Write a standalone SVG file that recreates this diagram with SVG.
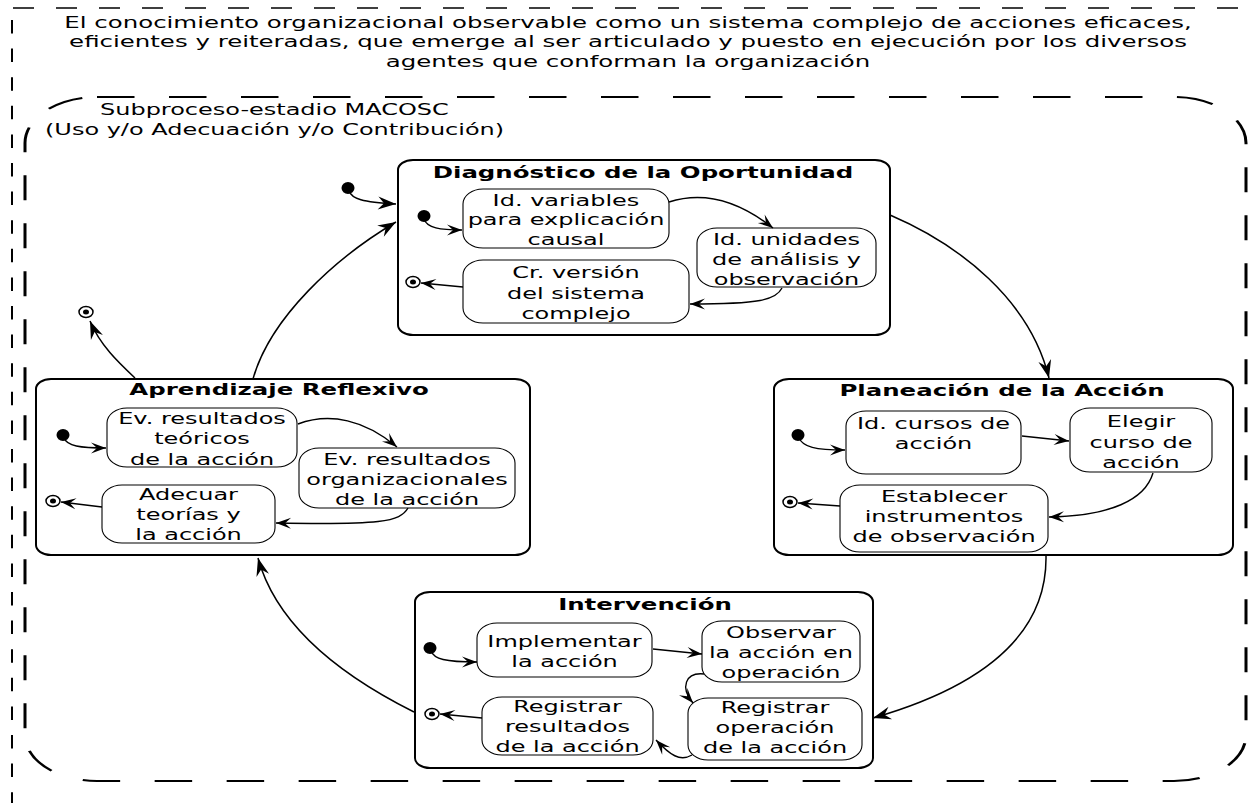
<svg xmlns="http://www.w3.org/2000/svg" width="1257" height="803" viewBox="0 0 1257 803">
<defs>
<style>
text{font-family:"DejaVu Sans","Liberation Sans",sans-serif;font-size:16px;fill:#000}
.c{text-anchor:middle}
.t{font-weight:bold;font-size:16.3px}
.h{font-size:16.3px}
.box{fill:#fff;stroke:#000;stroke-width:2}
.sub{fill:#fff;stroke:#000;stroke-width:1.1}
.conn{fill:none;stroke:#000;stroke-width:1.4;marker-end:url(#ah)}
.big{fill:none;stroke:#000;stroke-width:1.5;marker-end:url(#ahb)}
.init{fill:#000}
.fin{fill:#fff;stroke:#000;stroke-width:1.5}
.dash{fill:none;stroke:#000}
</style>
<marker id="ah" markerUnits="userSpaceOnUse" markerWidth="20" markerHeight="14" refX="16" refY="7" orient="auto" viewBox="0 0 20 14"><path d="M16,7 L1,1.5 L7,7 L1,12.5 Z" fill="#000"/></marker>
<marker id="ahb" markerUnits="userSpaceOnUse" markerWidth="22" markerHeight="16" refX="20" refY="8" orient="auto" viewBox="0 0 22 16"><path d="M20,8 L2,1.5 L8,8 L2,14.5 Z" fill="#000"/></marker>
</defs>
<rect width="1257" height="803" fill="#fff"/>

<g id="outer-frame">
<line class="dash" x1="13" y1="8" x2="1257" y2="8" stroke-width="1.3" stroke-dasharray="21 22"/>
<line class="dash" x1="12" y1="20" x2="12" y2="803" stroke-width="2" stroke-dasharray="13.5 15.1"/>
<text class="c h" transform="matrix(1.5 0 0 1 628 0)"><tspan x="0" y="28">El conocimiento organizacional observable como un sistema complejo de acciones eficaces,</tspan><tspan x="0" y="47.5">eficientes y reiteradas, que emerge al ser articulado y puesto en ejecución por los diversos</tspan><tspan x="0" y="67">agentes que conforman la organización</tspan></text>
</g>

<g id="subprocess-frame">
<g transform="matrix(1.5 0 0 1 0 0)"><rect class="dash" x="16.667" y="97" width="814" height="684" rx="48" ry="46" stroke-width="2" stroke-dasharray="25 23"/></g>
<text transform="matrix(1.5 0 0 1 100 0)" x="0" y="115">Subproceso-estadio MACOSC</text>
<text transform="matrix(1.5 0 0 1 45 0)" x="0" y="135">(Uso y/o Adecuación y/o Contribución)</text>
</g>

<g id="diagnostico">
<rect class="box" x="398" y="160" width="492" height="175" rx="15" ry="10"/>
<text class="c t" transform="matrix(1.5 0 0 1 643 0)" x="0" y="178">Diagnóstico de la Oportunidad</text>
<g id="d-idvar"><rect class="sub" x="463" y="189" width="206" height="59" rx="20" ry="15"/>
<text class="c" transform="matrix(1.5 0 0 1 566 0)"><tspan x="0" y="206">Id. variables</tspan><tspan x="0" y="225.5">para explicación</tspan><tspan x="0" y="245">causal</tspan></text></g>
<g id="d-idunid"><rect class="sub" x="697" y="228" width="179" height="59" rx="20" ry="15"/>
<text class="c" transform="matrix(1.5 0 0 1 786.5 0)"><tspan x="0" y="245">Id. unidades</tspan><tspan x="0" y="265">de análisis y</tspan><tspan x="0" y="285">observación</tspan></text></g>
<g id="d-crver"><rect class="sub" x="463" y="260" width="226" height="63" rx="20" ry="15"/>
<text class="c" transform="matrix(1.5 0 0 1 576 0)"><tspan x="0" y="278">Cr. versión</tspan><tspan x="0" y="299">del sistema</tspan><tspan x="0" y="319">complejo</tspan></text></g>
<ellipse class="init" cx="424" cy="216" rx="6.5" ry="6"/>
<g class="final"><ellipse class="fin" cx="413" cy="282" rx="7" ry="5.5"/><ellipse cx="413" cy="282" rx="3" ry="2.5"/></g>
</g>

<g id="planeacion">
<rect class="box" x="774" y="379" width="459" height="176" rx="15" ry="10"/>
<text class="c t" transform="matrix(1.5 0 0 1 1002 0)" x="0" y="396.5">Planeación de la Acción</text>
<g id="p-idcur"><rect class="sub" x="846" y="411" width="175" height="63" rx="20" ry="15"/>
<text class="c" transform="matrix(1.5 0 0 1 933.5 0)"><tspan x="0" y="429">Id. cursos de</tspan><tspan x="0" y="449">acción</tspan></text></g>
<g id="p-elegir"><rect class="sub" x="1070" y="408" width="142" height="64" rx="20" ry="15"/>
<text class="c" transform="matrix(1.5 0 0 1 1141 0)"><tspan x="0" y="427">Elegir</tspan><tspan x="0" y="448">curso de</tspan><tspan x="0" y="468">acción</tspan></text></g>
<g id="p-estab"><rect class="sub" x="840" y="485" width="208" height="67" rx="20" ry="15"/>
<text class="c" transform="matrix(1.5 0 0 1 944 0)"><tspan x="0" y="502">Establecer</tspan><tspan x="0" y="522">instrumentos</tspan><tspan x="0" y="542">de observación</tspan></text></g>
<ellipse class="init" cx="798" cy="435" rx="6.5" ry="6"/>
<g class="final"><ellipse class="fin" cx="790" cy="502" rx="7" ry="5.5"/><ellipse cx="790" cy="502" rx="3" ry="2.5"/></g>
</g>

<g id="aprendizaje">
<rect class="box" x="36" y="379" width="494" height="176" rx="15" ry="10"/>
<text class="c t" transform="matrix(1.5 0 0 1 279 0)" x="0" y="395.5">Aprendizaje Reflexivo</text>
<g id="a-evteo"><rect class="sub" x="107" y="408" width="190" height="59" rx="20" ry="15"/>
<text class="c" transform="matrix(1.5 0 0 1 202 0)"><tspan x="0" y="424">Ev. resultados</tspan><tspan x="0" y="444.5">teóricos</tspan><tspan x="0" y="465">de la acción</tspan></text></g>
<g id="a-evorg"><rect class="sub" x="299" y="448" width="216" height="60" rx="20" ry="15"/>
<text class="c" transform="matrix(1.5 0 0 1 407 0)"><tspan x="0" y="465">Ev. resultados</tspan><tspan x="0" y="485.5">organizacionales</tspan><tspan x="0" y="505">de la acción</tspan></text></g>
<g id="a-adec"><rect class="sub" x="102" y="485" width="173" height="58" rx="20" ry="15"/>
<text class="c" transform="matrix(1.5 0 0 1 188.5 0)"><tspan x="0" y="500">Adecuar</tspan><tspan x="0" y="520">teorías y</tspan><tspan x="0" y="540">la acción</tspan></text></g>
<ellipse class="init" cx="63" cy="435" rx="6.5" ry="6"/>
<g class="final"><ellipse class="fin" cx="53" cy="501" rx="7" ry="5.5"/><ellipse cx="53" cy="501" rx="3" ry="2.5"/></g>
</g>

<g id="intervencion">
<rect class="box" x="415" y="592" width="458" height="176" rx="15" ry="10"/>
<text class="c t" transform="matrix(1.5 0 0 1 645 0)" x="0" y="610">Intervención</text>
<g id="i-impl"><rect class="sub" x="477" y="623" width="175" height="54" rx="20" ry="15"/>
<text class="c" transform="matrix(1.5 0 0 1 564.5 0)"><tspan x="0" y="647">Implementar</tspan><tspan x="0" y="667">la acción</tspan></text></g>
<g id="i-obs"><rect class="sub" x="702" y="621" width="158" height="61" rx="20" ry="15"/>
<text class="c" transform="matrix(1.5 0 0 1 781 0)"><tspan x="0" y="638">Observar</tspan><tspan x="0" y="658">la acción en</tspan><tspan x="0" y="678">operación</tspan></text></g>
<g id="i-regres"><rect class="sub" x="482" y="697" width="171" height="58" rx="20" ry="15"/>
<text class="c" transform="matrix(1.5 0 0 1 567.5 0)"><tspan x="0" y="712">Registrar</tspan><tspan x="0" y="732">resultados</tspan><tspan x="0" y="752">de la acción</tspan></text></g>
<g id="i-regop"><rect class="sub" x="688" y="698" width="174" height="62" rx="20" ry="15"/>
<text class="c" transform="matrix(1.5 0 0 1 775 0)"><tspan x="0" y="713">Registrar</tspan><tspan x="0" y="733">operación</tspan><tspan x="0" y="753">de la acción</tspan></text></g>
<ellipse class="init" cx="430" cy="648" rx="6.5" ry="6"/>
<g class="final"><ellipse class="fin" cx="432" cy="714" rx="7" ry="5.5"/><ellipse cx="432" cy="714" rx="3" ry="2.5"/></g>
</g>

<g id="start-end">
<ellipse class="init" cx="348" cy="188" rx="6.5" ry="6"/>
<g class="final"><ellipse class="fin" cx="86" cy="312" rx="7" ry="5.5"/><ellipse cx="86" cy="312" rx="3" ry="2.5"/></g>
</g>

<g id="connectors">
<path class="big" d="M349,191 C352,199 362,202 396,204"/>
<path class="big" d="M253,379 C270,318 335,258 396,222"/>
<path class="big" d="M890,215 C960,245 1030,300 1049,378"/>
<path class="big" d="M1046,556 C1047,620 1005,680 873,718"/>
<path class="big" d="M414,712 C330,670 275,620 258,558"/>
<path class="big" d="M135,378 C118,362 100,345 90,321"/>
<path class="conn" d="M424,219 C427,228 440,230 462,230"/>
<path class="conn" d="M669,202 C700,192 735,198 773,228"/>
<path class="conn" d="M782,288 C776,300 760,304 690,304"/>
<path class="conn" d="M463,287 L421,283"/>
<path class="conn" d="M799,438 C803,447 815,450 845,450"/>
<path class="conn" d="M1022,436 L1069,441"/>
<path class="conn" d="M1153,473 C1145,500 1110,516 1049,517"/>
<path class="conn" d="M840,506 L798,503"/>
<path class="conn" d="M64,438 C67,446 80,448 106,448"/>
<path class="conn" d="M298,424 C330,412 365,420 397,447"/>
<path class="conn" d="M408,508 C400,522 380,525 276,523"/>
<path class="conn" d="M102,507 L61,502"/>
<path class="conn" d="M431,651 C434,659 445,662 477,662"/>
<path class="conn" d="M653,649 L702,654"/>
<path class="conn" d="M704,674 C685,672 680,688 693,703"/>
<path class="conn" d="M692,755 C680,762 670,755 656,740"/>
<path class="conn" d="M482,718 L440,714"/>
</g>
</svg>
